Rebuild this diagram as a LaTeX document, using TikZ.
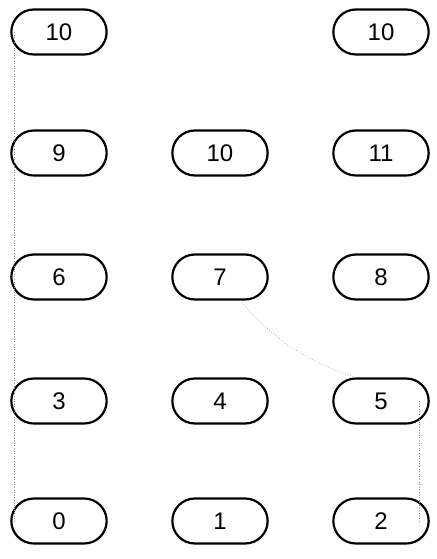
\documentclass[tikz,border=0pt]{standalone}
\usepackage{fontspec}
\setmainfont{Liberation Sans}
\usepackage{tikz}
\usetikzlibrary{shapes.misc}

\begin{document}
\begin{tikzpicture}[x=1pt, y=1pt,
    key/.style={draw, rounded rectangle, line width=2.2pt, minimum width=102pt,
                minimum height=45pt, font=\fontsize{24}{28}\selectfont},
    faint/.style={draw=black!45, dotted, line width=0.6pt}]
    \useasboundingbox (0,0) rectangle (436,559);

    % Define the keys
    % Top row
    \node[key] (ta) at (59,527) {10};
    \node[key] (tb) at (381,527) {10};

    % Second row
    \node[key] (k9) at (59,406) {9};
    \node[key] (k10) at (220,406) {10};
    \node[key] (k11) at (381,406) {11};

    % Third row
    \node[key] (k6) at (59,282) {6};
    \node[key] (k7) at (220,282) {7};
    \node[key] (k8) at (381,282) {8};

    % Fourth row
    \node[key] (k3) at (59,158) {3};
    \node[key] (k4) at (220,158) {4};
    \node[key] (k5) at (381,158) {5};

    % Bottom row
    \node[key] (k0) at (59,38) {0};
    \node[key] (k1) at (220,38) {1};
    \node[key] (k2) at (381,38) {2};

    % Faint connectors
    \draw[faint] ([xshift=4pt]ta.west) -- ([xshift=4pt]k0.west);
    \draw[faint] ([xshift=-10pt]k5.east) -- ([xshift=-10pt]k2.east);
    \draw[faint] ([xshift=20pt]k7.south) to[bend right=15] (k5.north west);
\end{tikzpicture}
\end{document}
